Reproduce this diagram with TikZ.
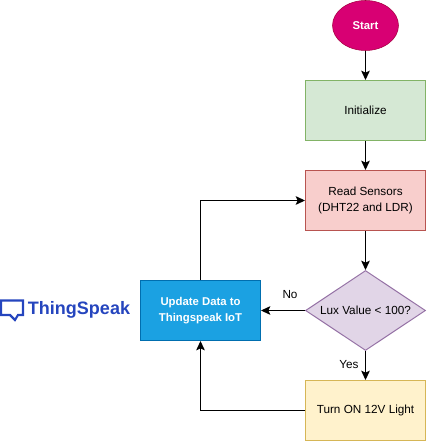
\documentclass[tikz,border=0pt]{standalone}
\usepackage{fontspec}
\setmainfont{Liberation Sans}
\usetikzlibrary{arrows.meta,shapes.geometric}
\definecolor{startfill}{HTML}{D80073}
\definecolor{startline}{HTML}{A50040}
\definecolor{initfill}{HTML}{D5E8D4}
\definecolor{initline}{HTML}{82B366}
\definecolor{readfill}{HTML}{F8CECC}
\definecolor{readline}{HTML}{B85450}
\definecolor{luxfill}{HTML}{E1D5E7}
\definecolor{luxline}{HTML}{9673A6}
\definecolor{lightfill}{HTML}{FFF2CC}
\definecolor{lightline}{HTML}{D6B656}
\definecolor{cloudfill}{HTML}{1BA1E2}
\definecolor{cloudline}{HTML}{006EAF}
\definecolor{logoblue}{HTML}{2545BE}
\begin{document}
\begin{tikzpicture}[
x=0.75pt, y=-0.75pt,
font=\fontsize{8.8pt}{12pt}\selectfont,
mybox/.style={draw, rectangle, minimum width=90pt, minimum height=45pt, align=center, line width=0.75pt, inner sep=0pt},
mydiamond/.style={draw, diamond, aspect=1.5, minimum width=90pt, minimum height=60pt, align=center, line width=0.75pt, inner sep=0pt},
myarrow/.style={draw, line width=0.75pt, -{Stealth[length=7pt,width=6.5pt,inset=1.5pt]}},
mylabel/.style={inner sep=0pt}
]

\useasboundingbox (0,0) rectangle (427,441);

\node (start) at (365.5,25.5) [draw=startline, fill=startfill, ellipse, minimum width=49.5pt, minimum height=37.5pt, inner sep=0pt, text=white, font=\fontsize{8.5pt}{12pt}\selectfont\bfseries] {Start};
\node (init) at (365.5,110.5) [mybox, draw=initline, fill=initfill] {Initialize};
\node (read) at (365.5,200.5) [mybox, draw=readline, fill=readfill] {Read Sensors\\(DHT22 and LDR)};
\node (lux) at (365.5,310.5) [mydiamond, draw=luxline, fill=luxfill] {Lux Value < 100?};
\node (light) at (365.5,410.5) [mybox, draw=lightline, fill=lightfill] {Turn ON 12V Light};
\node (cloud) at (200.5,310.5) [mybox, draw=cloudline, fill=cloudfill, text=white, font=\fontsize{8.5pt}{12pt}\selectfont\bfseries] {Update Data to\\Thingspeak IoT};

\node (no) at (290,295) [mylabel] {No};
\node (yes) at (349,365) [mylabel] {Yes};

\draw[myarrow] (start) -- (init);
\draw[myarrow] (init) -- (read);
\draw[myarrow] (read) -- (lux);
\draw[myarrow] (lux) -- (light);
\draw[myarrow] (lux) -- (cloud);
\draw[myarrow] (light) -| (cloud);
\draw[myarrow] (cloud) |- (read);

% logo
\draw[logoblue, line width=1.6pt, line join=miter] (1,300.5) -- (23,300.5) -- (23,315) -- (18,315) -- (15,320) -- (10,315) -- (1,315) -- cycle;
\node (logo) at (79,310) [mylabel, text=logoblue, font=\fontsize{13.5pt}{16pt}\selectfont\bfseries] {ThingSpeak};

\end{tikzpicture}
\end{document}
